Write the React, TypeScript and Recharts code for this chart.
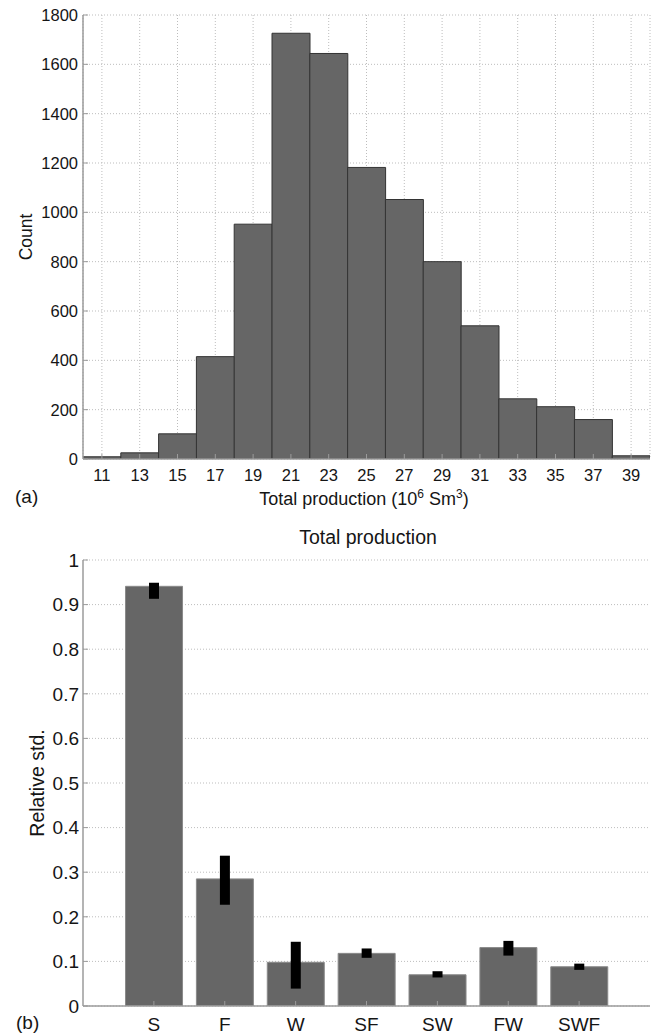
import React from 'react';
import { ComposedChart, Bar, XAxis, YAxis, CartesianGrid, ErrorBar } from 'recharts';

// (a) Histogram of total production
const binCenters = [11, 13, 15, 17, 19, 21, 23, 25, 27, 29, 31, 33, 35, 37, 39];
const binCounts = [9, 25, 102, 415, 952, 1726, 1644, 1182, 1052, 800, 540, 244, 212, 160, 13];
const countTicks = [0, 200, 400, 600, 800, 1000, 1200, 1400, 1600, 1800];

// (b) Relative std. per scenario, with min/max range
const scenarios = ['S', 'F', 'W', 'SF', 'SW', 'FW', 'SWF'];
const scenarioPos = [1, 2, 3, 4, 5, 6, 7];
const relStd = [0.941, 0.285, 0.098, 0.118, 0.07, 0.131, 0.088];
const relStdLow = [0.913, 0.227, 0.039, 0.108, 0.064, 0.113, 0.081];
const relStdHigh = [0.949, 0.337, 0.144, 0.129, 0.078, 0.146, 0.095];
const relStdTicks = [0, 0.1, 0.2, 0.3, 0.4, 0.5, 0.6, 0.7, 0.8, 0.9, 1];

const histData = binCenters.map((center, i) => ({ center, count: binCounts[i] }));
const stdData = scenarioPos.map((pos, i) => ({
  pos,
  value: relStd[i],
  err: [relStd[i] - relStdLow[i], relStdHigh[i] - relStd[i]],
}));

const FONT = '"Liberation Sans", Arial, Helvetica, sans-serif';
const AXIS = '#9b9b9b';
const INK = '#151515';
const GRID = '#bdbdbd';
const TL = 5;

const fmtStd = (v: number) => String(Math.round(v * 10) / 10);

const leftTick = (fontSize: number, gap: number, fmt: (v: number) => string) => (p: any) => (
  <g>
    <line x1={p.x} y1={p.y} x2={p.x + TL} y2={p.y} stroke={AXIS} />
    <text x={p.x - gap} y={p.y} dy="0.36em" textAnchor="end" fontSize={fontSize} fontFamily={FONT} fill={INK}>
      {fmt(p.payload.value)}
    </text>
  </g>
);

const bottomTick = (fontSize: number, offset: number, fmt: (v: number) => string) => (p: any) => (
  <g>
    <line x1={p.x} y1={p.y} x2={p.x} y2={p.y - TL} stroke={AXIS} />
    <text x={p.x} y={p.y + offset} textAnchor="middle" fontSize={fontSize} fontFamily={FONT} fill={INK}>
      {fmt(p.payload.value)}
    </text>
  </g>
);

const topTick = (p: any) => <line x1={p.x} y1={p.y} x2={p.x} y2={p.y + TL} stroke={AXIS} />;
const rightTick = (p: any) => <line x1={p.x} y1={p.y} x2={p.x - TL} y2={p.y} stroke={AXIS} />;

const axisLine = { stroke: AXIS, strokeWidth: 1.5 };

const HistXLabel = () => (
  <g fontFamily={FONT} fill={INK}>
    <text x={364} y={505} textAnchor="middle" fontSize={18}>
      Total production (10<tspan dy={-7} fontSize={12}>6</tspan>
      <tspan dy={7}> Sm</tspan>
      <tspan dy={-7} fontSize={12}>3</tspan>
      <tspan dy={7}>)</tspan>
    </text>
    <text x={15} y={503} fontSize={19}>(a)</text>
  </g>
);

const HistYLabel = () => (
  <text x={32} y={237} transform="rotate(-90, 32, 237)" textAnchor="middle" fontSize={17.5} fontFamily={FONT} fill={INK}>
    Count
  </text>
);

const StdYLabel = () => (
  <g fontFamily={FONT} fill={INK}>
    <text x={368} y={24} textAnchor="middle" fontSize={19.5}>
      Total production
    </text>
    <text x={44} y={263} transform="rotate(-90, 44, 263)" textAnchor="middle" fontSize={19.5}>
      Relative std.
    </text>
  </g>
);

const StdXLabel = () => (
  <text x={16} y={509} fontSize={19} fontFamily={FONT} fill={INK}>
    (b)
  </text>
);

function Histogram() {
  return (
    <ComposedChart width={655} height={520} data={histData} margin={{ top: 15, right: 5, bottom: 0, left: 0 }} barCategoryGap={0} barGap={0}>
      <CartesianGrid stroke={GRID} strokeDasharray="1 2" />
      <XAxis
        dataKey="center"
        type="number"
        domain={[10, 40]}
        ticks={binCenters}
        allowDataOverflow
        height={61}
        tickSize={0}
        tickMargin={0}
        tickLine={false}
        axisLine={axisLine}
        tick={bottomTick(16.5, 22, (v) => String(v))}
        interval={0}
        label={HistXLabel}
      />
      <XAxis
        xAxisId="top"
        orientation="top"
        type="number"
        domain={[10, 40]}
        ticks={binCenters}
        allowDataOverflow
        height={0}
        tickSize={0}
        tickMargin={0}
        tickLine={false}
        axisLine={axisLine}
        tick={topTick}
        interval={0}
      />
      <YAxis
        type="number"
        domain={[0, 1800]}
        ticks={countTicks}
        allowDataOverflow
        width={83}
        tickSize={0}
        tickMargin={0}
        tickLine={false}
        axisLine={axisLine}
        tick={leftTick(16.5, 5, (v) => String(v))}
        interval={0}
        label={HistYLabel}
      />
      <YAxis
        yAxisId="right"
        orientation="right"
        type="number"
        domain={[0, 1800]}
        ticks={countTicks}
        allowDataOverflow
        width={0}
        tickSize={0}
        tickMargin={0}
        tickLine={false}
        axisLine={axisLine}
        tick={rightTick}
        interval={0}
      />
      <Bar dataKey="count" fill="#666666" stroke="#333333" strokeWidth={1} isAnimationActive={false} />
    </ComposedChart>
  );
}

function StdChart() {
  return (
    <ComposedChart width={655} height={515} data={stdData} margin={{ top: 40, right: 5, bottom: 0, left: 0 }} barCategoryGap="10%">
      <CartesianGrid stroke={GRID} strokeDasharray="1 2" vertical={false} />
      <XAxis
        dataKey="pos"
        type="number"
        domain={[0, 8]}
        ticks={scenarioPos}
        allowDataOverflow
        height={29}
        tickSize={0}
        tickMargin={0}
        tickLine={false}
        axisLine={axisLine}
        tick={bottomTick(19, 25, (v) => scenarios[v - 1])}
        interval={0}
        label={StdXLabel}
      />
      <XAxis
        xAxisId="top"
        orientation="top"
        type="number"
        domain={[0, 8]}
        ticks={scenarioPos}
        allowDataOverflow
        height={0}
        tickSize={0}
        tickMargin={0}
        tickLine={false}
        axisLine={axisLine}
        tick={topTick}
        interval={0}
      />
      <YAxis
        type="number"
        domain={[0, 1]}
        ticks={relStdTicks}
        allowDataOverflow
        width={83}
        tickSize={0}
        tickMargin={0}
        tickLine={false}
        axisLine={axisLine}
        tick={leftTick(19, 4, fmtStd)}
        interval={0}
        label={StdYLabel}
      />
      <YAxis
        yAxisId="right"
        orientation="right"
        type="number"
        domain={[0, 1]}
        ticks={relStdTicks}
        allowDataOverflow
        width={0}
        tickSize={0}
        tickMargin={0}
        tickLine={false}
        axisLine={axisLine}
        tick={rightTick}
        interval={0}
      />
      <Bar dataKey="value" fill="#666666" stroke="#8a8a8a" strokeWidth={1} isAnimationActive={false}>
        <ErrorBar dataKey="err" width={0} strokeWidth={10} stroke="#000000" direction="y" isAnimationActive={false} />
      </Bar>
    </ComposedChart>
  );
}

export default function App() {
  return (
    <div style={{ position: 'absolute', left: 0, top: 0, width: 655, height: 1035, background: '#ffffff' }}>
      <div style={{ position: 'absolute', left: 0, top: 0 }}>
        <Histogram />
      </div>
      <div style={{ position: 'absolute', left: 0, top: 520 }}>
        <StdChart />
      </div>
    </div>
  );
}
